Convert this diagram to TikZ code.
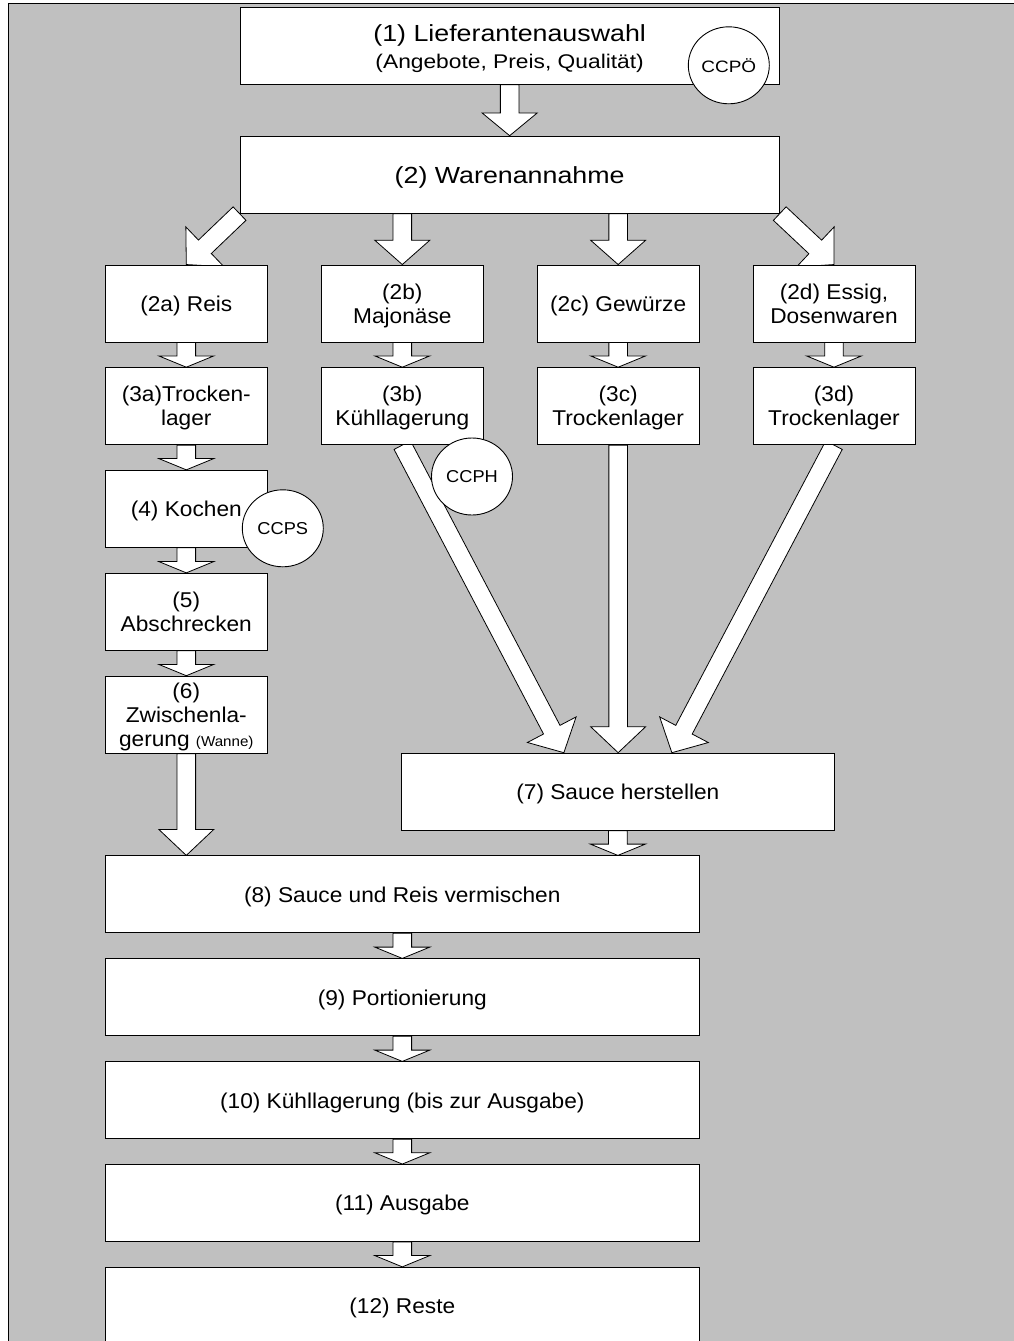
\documentclass[tikz,border=0pt]{standalone}
\usepackage{fontspec}
\setmainfont{Liberation Sans}[FakeStretch=1.06]
\newfontfamily\widefont{Liberation Sans}[FakeStretch=1.15]
\usetikzlibrary{calc,shapes.geometric}
\definecolor{canvasgray}{RGB}{192,192,192}
\pgfdeclarelayer{paper}
\pgfdeclarelayer{arrows}
\pgfsetlayers{paper,arrows,main}

% block arrow from #1 to tip #2 with head length #3
\newcommand{\flowarrow}[3]{%
  \coordinate (fa-s) at (#1);
  \coordinate (fa-t) at (#2);
  \coordinate (fa-b) at ($(fa-t)!#3!(fa-s)$);
  \draw[flow] ($(fa-s)!9.3pt!90:(fa-t)$) -- ($(fa-b)!9.3pt!-90:(fa-s)$)
    -- ($(fa-b)!27.5pt!-90:(fa-s)$) -- (fa-t) -- ($(fa-b)!27.5pt!90:(fa-s)$)
    -- ($(fa-b)!9.3pt!90:(fa-s)$) -- ($(fa-s)!9.3pt!-90:(fa-t)$) -- cycle;}

\begin{document}
\begin{tikzpicture}[x=1pt,y=-1pt,
  stepbox/.style={draw=black, fill=white, line width=0.9pt, inner sep=0pt,
    minimum height=77pt, align=center, text depth=0pt,
    font=\fontsize{21.4}{24}\selectfont},
  smallbox/.style={stepbox, minimum width=162pt},
  widebox/.style={stepbox, minimum width=594pt},
  ccp/.style={draw=black, fill=white, line width=0.9pt, ellipse, inner sep=0pt,
    minimum width=81pt, minimum height=77pt, font=\fontsize{17.2}{20}\selectfont},
  flow/.style={draw=black, fill=white, line width=0.8pt, line join=miter},
  headline/.style={anchor=base, inner sep=0pt, font=\widefont\fontsize{23.3}{26}\selectfont},
  subline/.style={anchor=base, inner sep=0pt, font=\widefont\fontsize{19.8}{24}\selectfont},
]
\useasboundingbox (0,0) rectangle (1014,1341);

% ---- process steps ----
\node[stepbox, minimum width=539.3pt] (b1) at (509.65,45.8) {};
\node[headline] (t1a) at (509.65,41.7) {(1) Lieferantenauswahl};
\node[subline] (t1b) at (509.65,68.3) {(Angebote, Preis, Qualität)};
\node[stepbox, minimum width=539.3pt, font=\widefont\fontsize{23.3}{26}\selectfont]
  (b2) at (509.65,174.65) {(2) Warenannahme};

\node[smallbox] (b2a) at (186.3,303.5) {(2a) Reis};
\node[smallbox] (b2b) at (402.3,303.5) {(2b)\\Majonäse};
\node[smallbox] (b2c) at (618.15,303.5) {(2c) Gewürze};
\node[smallbox] (b2d) at (834,303.5) {(2d) Essig,\\Dosenwaren};

\node[smallbox] (b3a) at (186.3,406.15) {(3a)Trocken-\\lager};
\node[smallbox] (b3b) at (402.3,406.15) {(3b)\\Kühllagerung};
\node[smallbox] (b3c) at (618.15,406.15) {(3c)\\Trockenlager};
\node[smallbox] (b3d) at (834,406.15) {(3d)\\Trockenlager};

\node[smallbox] (b4) at (186.3,508.8) {(4) Kochen};
\node[smallbox] (b5) at (186.3,611.8) {(5)\\Abschrecken};
\node[smallbox] (b6) at (186.3,714.65)
  {(6)\\Zwischenla-\\gerung {\fontsize{14.3}{24}\selectfont(Wanne)}};

\node[stepbox, minimum width=432.3pt] (b7) at (617.85,791.65) {(7) Sauce herstellen};

\node[widebox] (b8) at (402.3,894.35) {(8) Sauce und Reis vermischen};
\node[widebox] (b9) at (402.3,997.35) {(9) Portionierung};
\node[widebox] (b10) at (402.3,1100.35) {(10) Kühllagerung (bis zur Ausgabe)};
\node[widebox] (b11) at (402.3,1203) {(11) Ausgabe};
\node[widebox] (b12) at (402.3,1305.8) {(12) Reste};

% ---- control points ----
\node[ccp, font=\widefont\fontsize{16.5}{18}\selectfont] (cO) at (728.8,65.3) {CCPÖ};
\node[ccp] (cS) at (282.8,528.3) {CCPS};
\node[ccp] (cH) at (472,476.5) {CCPH};

% ---- sheet ----
\begin{pgfonlayer}{paper}
  \fill[white] (0,0) rectangle (1014,1341);
  \fill[canvasgray] (8.5,3.5) rectangle (1020,1350);
  \draw[line width=1.6pt] (1020,3.5) -- (8.5,3.5) -- (8.5,1350);
\end{pgfonlayer}

% ---- flow arrows ----
\begin{pgfonlayer}{arrows}
  \flowarrow{b1.south}{b2.north}{22.7pt}
  \flowarrow{b2.south west}{b2a.north}{25.7pt}
  \flowarrow{b2b.north |- b2.south}{b2b.north}{24.3pt}
  \flowarrow{b2c.north |- b2.south}{b2c.north}{24.3pt}
  \flowarrow{b2.south east}{b2d.north}{25.7pt}

  \flowarrow{b2a.south}{b3a.north}{11.3pt}
  \flowarrow{b2b.south}{b3b.north}{11.3pt}
  \flowarrow{b2c.south}{b3c.north}{11.3pt}
  \flowarrow{b2d.south}{b3d.north}{11.3pt}

  \flowarrow{b3a.south}{b4.north}{11.3pt}
  \flowarrow{b4.south}{b5.north}{11.3pt}
  \flowarrow{b5.south}{b6.north}{11.3pt}
  \flowarrow{b6.south}{b6.south |- b8.north}{26pt}

  \flowarrow{b3b.south}{$(b7.north)+(-54,0)$}{26pt}
  \flowarrow{b3c.south}{b3c.south |- b7.north}{26pt}
  \flowarrow{b3d.south}{$(b7.north)+(54,0)$}{26pt}

  \flowarrow{b7.south}{b7.south |- b8.north}{11.3pt}
  \flowarrow{b8.south}{b9.north}{11.3pt}
  \flowarrow{b9.south}{b10.north}{11.3pt}
  \flowarrow{b10.south}{b11.north}{11.3pt}
  \flowarrow{b11.south}{b12.north}{11.3pt}
\end{pgfonlayer}
\end{tikzpicture}
\end{document}
